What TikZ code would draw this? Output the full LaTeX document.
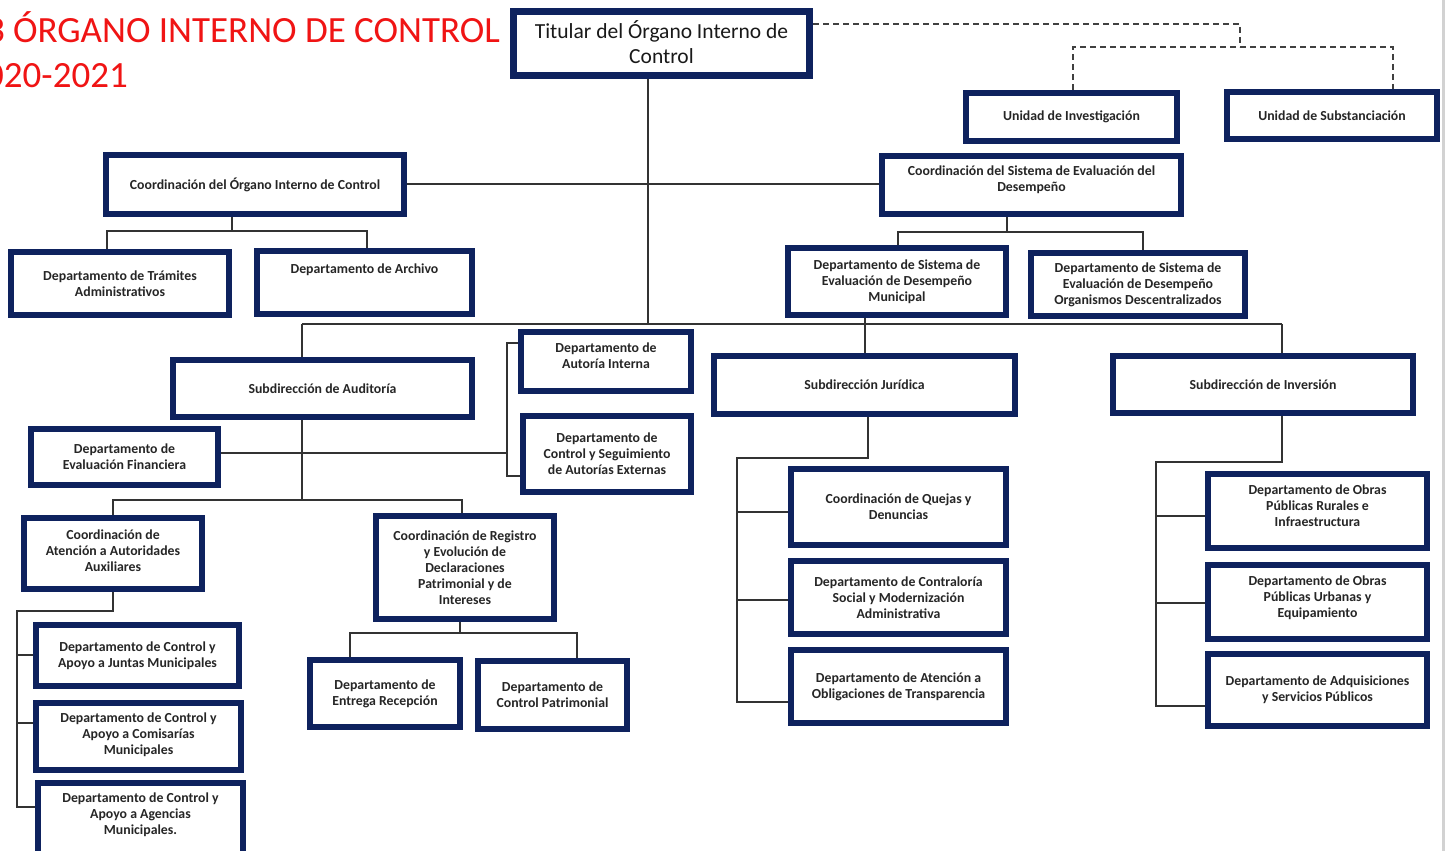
\documentclass[tikz,border=0pt]{standalone}
\usepackage{fontspec}
\setmainfont{Carlito}
\definecolor{navy}{RGB}{14,34,94}
\definecolor{titred}{RGB}{240,20,20}
\tikzset{
  box/.style={draw=navy, line width=6pt, fill=white, inner sep=0pt},
  txt/.style={align=center, inner sep=0pt, text=black!85, font=\bfseries\fontsize{13.8}{16}\selectfont},
  conn/.style={draw=black!80, line width=1.5pt},
  dashconn/.style={draw=black!75, line width=1.5pt, dash pattern=on 6pt off 4pt}
}
\newcommand\obox[7][0]{%
  \node[box,minimum width={(#4-#2-6)*1pt},minimum height={(#5-#3-6)*1pt}] (#6) at ({(#2+#4)/2},{(#3+#5)/2}) {};
  \node[txt] at ([yshift=#1pt]#6.center) {#7};}
\begin{document}
\begin{tikzpicture}[x=1pt,y=-1pt]
\useasboundingbox (0,0) rectangle (1448,851);
\clip (0,0) rectangle (1448,851);
\fill[white] (0,0) rectangle (1448,851);
\draw[gray!35, line width=3pt] (1443,0) -- (1443,851);

% title
\node[anchor=base east, inner sep=0pt, text=titred, font=\fontsize{37}{44}\selectfont] (ttl1) at (500,43) {3 ÓRGANO INTERNO DE CONTROL};
\node[anchor=base east, inner sep=0pt, text=titred, font=\fontsize{37}{44}\selectfont] (ttl2) at (128,87) {020-2021};

% coordinates for connectors
\coordinate (tbus) at (648,324);
\coordinate (busL) at (302,324);
\coordinate (busR) at (1282,324);
\coordinate (busJ) at (865,324);
\coordinate (oicJ) at (232,231);
\coordinate (oicL) at (107,231);
\coordinate (oicR) at (367,231);
\coordinate (sedJ) at (1007,232);
\coordinate (sedL) at (898,232);
\coordinate (sedR) at (1143,232);
\coordinate (d1) at (1240,24);
\coordinate (dL) at (1073,47);
\coordinate (dR) at (1393,47);
\coordinate (a1) at (302,500);
\coordinate (aL) at (113,500);
\coordinate (aR) at (462,500);
\coordinate (aB) at (507,453);
\coordinate (bT) at (507,343);
\coordinate (bB) at (507,476);
\coordinate (c1) at (113,611);
\coordinate (c2) at (17,611);
\coordinate (cj) at (17,655);
\coordinate (cm) at (17,723);
\coordinate (cb) at (17,807);
\coordinate (r1) at (460,633);
\coordinate (rL) at (350,633);
\coordinate (rR) at (577,633);
\coordinate (j1) at (868,458);
\coordinate (j2) at (737,458);
\coordinate (jq) at (737,512);
\coordinate (js) at (737,600);
\coordinate (jb) at (737,702);
\coordinate (i1) at (1282,462);
\coordinate (i2) at (1156,462);
\coordinate (iq) at (1156,516);
\coordinate (is) at (1156,603);
\coordinate (ib) at (1156,706);

% connectors (drawn first, boxes cover ends)
\draw[conn] (tbus |- 0,79) -- (tbus);
\draw[conn] (busL) -- (busR);
\draw[conn] (busL) -- (busL |- 0,357);
\draw[conn] (busR) -- (busR |- 0,353);
\draw[conn] (busJ |- 0,318) -- (busJ |- 0,353);
\draw[conn] (103,184) -- (880,184);
\draw[conn] (oicJ |- 0,217) -- (oicJ);
\draw[conn] (oicL |- 0,249) -- (oicL) -- (oicR) -- (oicR |- 0,249);
\draw[conn] (sedJ |- 0,217) -- (sedJ);
\draw[conn] (sedL |- 0,246) -- (sedL) -- (sedR) -- (sedR |- 0,251);
\draw[dashconn] (813,24) -- (d1) -- (d1 |- dL);
\draw[dashconn] (dL |- 0,90) -- (dL) -- (dR) -- (dR |- 0,89);
\draw[conn] (a1 |- 0,420) -- (a1);
\draw[conn] (aL |- 0,515) -- (aL) -- (aR) -- (aR |- 0,513);
\draw[conn] (220,453) -- (aB);
\draw[conn] (519,343) -- (bT) -- (bB) -- (521,476);
\draw[conn] (c1 |- 0,591) -- (c1) -- (c2) -- (cb) -- (36,807);
\draw[conn] (cj) -- (34,655);
\draw[conn] (cm) -- (34,723);
\draw[conn] (r1 |- 0,621) -- (r1);
\draw[conn] (rL |- 0,658) -- (rL) -- (rR) -- (rR |- 0,658);
\draw[conn] (j1 |- 0,416) -- (j1) -- (j2) -- (jb) -- (789,702);
\draw[conn] (jq) -- (789,512);
\draw[conn] (js) -- (789,600);
\draw[conn] (i1 |- 0,416) -- (i1) -- (i2) -- (ib) -- (1206,706);
\draw[conn] (iq) -- (1206,516);
\draw[conn] (is) -- (1206,603);

% boxes
\node[box, line width=7pt, minimum width=296pt, minimum height=64pt] (tit) at (661.5,43.5) {};
\node[align=center, inner sep=0pt, text=black!90, font=\fontsize{21.5}{25}\selectfont] at ([yshift=1pt]tit.center) {Titular del Órgano Interno de\\Control};
\obox{963}{90}{1180}{144}{uinv}{Unidad de Investigación}
\obox{1224}{89}{1440}{142}{usub}{Unidad de Substanciación}
\obox{103}{152}{407}{217}{coic}{Coordinación del Órgano Interno de Control}
\obox[5]{879}{153}{1184}{217}{csed}{Coordinación del Sistema de Evaluación del\\Desempeño}
\obox{8}{249}{232}{318}{tram}{Departamento de Trámites\\Administrativos}
\obox[13]{254}{248}{475}{317}{arch}{Departamento de Archivo}
\obox{785}{245}{1009}{318}{sedm}{Departamento de Sistema de\\Evaluación de Desempeño\\Municipal}
\obox{1028}{250}{1248}{319}{sedo}{Departamento de Sistema de\\Evaluación de Desempeño\\Organismos Descentralizados}
\obox{170}{357}{475}{420}{sa}{Subdirección de Auditoría}
\obox[6]{518}{329}{694}{394}{ai}{Departamento de\\Autoría Interna}
\obox{520}{413}{694}{495}{cse}{Departamento de\\Control y Seguimiento\\de Autorías Externas}
\obox{711}{353}{1018}{417}{sj}{Subdirección Jurídica}
\obox{1110}{353}{1416}{416}{sinv}{Subdirección de Inversión}
\obox{28}{426}{221}{488}{efin}{Departamento de\\Evaluación Financiera}
\obox[3]{21}{515}{205}{592}{caa}{Coordinación de\\Atención a Autoridades\\Auxiliares}
\obox{373}{513}{557}{622}{crd}{Coordinación de Registro\\y Evolución de\\Declaraciones\\Patrimonial y de\\Intereses}
\obox{33}{622}{242}{689}{djm}{Departamento de Control y\\Apoyo a Juntas Municipales}
\obox[2]{33}{700}{244}{773}{dcm}{Departamento de Control y\\Apoyo a Comisarías\\Municipales}
\obox[10]{35}{780}{246}{870}{dag}{Departamento de Control y\\Apoyo a Agencias\\Municipales.}
\obox{307}{657}{463}{730}{der}{Departamento de\\Entrega Recepción}
\obox{475}{658}{630}{732}{dcp}{Departamento de\\Control Patrimonial}
\obox{788}{466}{1009}{548}{cqd}{Coordinación de Quejas y\\Denuncias}
\obox{788}{558}{1009}{637}{dcs}{Departamento de Contraloría\\Social y Modernización\\Administrativa}
\obox{788}{647}{1009}{726}{dtr}{Departamento de Atención a\\Obligaciones de Transparencia}
\obox[5]{1205}{471}{1430}{551}{dor}{Departamento de Obras\\Públicas Rurales e\\Infraestructura}
\obox[4]{1205}{562}{1430}{642}{dou}{Departamento de Obras\\Públicas Urbanas y\\Equipamiento}
\obox{1205}{651}{1430}{729}{dad}{Departamento de Adquisiciones\\y Servicios Públicos}
\end{tikzpicture}
\end{document}
